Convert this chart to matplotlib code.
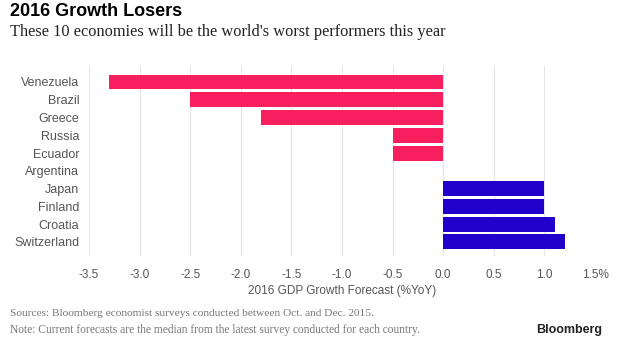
import matplotlib
matplotlib.use("Agg")
import matplotlib.pyplot as plt

countries = ["Venezuela", "Brazil", "Greece", "Russia", "Ecuador",
             "Argentina", "Japan", "Finland", "Croatia", "Switzerland"]
growth = [-3.3, -2.5, -1.8, -0.5, -0.5, 0.0, 1.0, 1.0, 1.1, 1.2]
xticks = [-3.5, -3.0, -2.5, -2.0, -1.5, -1.0, -0.5, 0.0, 0.5, 1.0, 1.5]
xtick_labels = ["-3.5", "-3.0", "-2.5", "-2.0", "-1.5", "-1.0", "-0.5",
                "0.0", "0.5", "1.0", "1.5%"]

plt.rcParams['axes.unicode_minus'] = False
plt.rcParams['font.family'] = ['Liberation Sans', 'DejaVu Sans']

fig = plt.figure(figsize=(6.25, 3.52), dpi=100)
ax = fig.add_axes([89/625, 1 - 256/352, (595 - 89)/625, (256 - 66)/352])

colors = ['#f81f5e' if v < 0 else '#2200cc' for v in growth]
ax.barh(range(len(countries)), growth, height=0.84, color=colors, zorder=2)

ax.set_xlim(-3.5, 1.5)
ax.set_ylim(9.79, -0.9)
ax.set_xticks(xticks)
ax.set_xticklabels(xtick_labels)
ax.set_yticks(range(len(countries)))
ax.set_yticklabels(countries)
ax.tick_params(axis='both', length=0, colors='#555555', labelsize=8.5)
ax.tick_params(axis='y', labelsize=9, pad=7)
ax.tick_params(axis='x', pad=9)
ax.grid(axis='x', color='#e5e5e5', linewidth=0.8, zorder=0)
for s in ax.spines.values():
    s.set_visible(False)
ax.set_xlabel("2016 GDP Growth Forecast (%YoY)", fontsize=8.5, color='#555555', labelpad=3)

fig.text(10/625, 1 - 12/352, "2016 Growth Losers", fontsize=13, fontweight='bold',
         va='center', ha='left', color='black')
fig.text(10/625, 1 - 32/352, "These 10 economies will be the world's worst performers this year",
         fontsize=11.8, family='Liberation Serif', va='center', ha='left', color='#222222')
fig.text(10/625, 1 - 314/352, "Sources: Bloomberg economist surveys conducted between Oct. and Dec. 2015.",
         fontsize=8.2, family='Liberation Serif', va='center', ha='left', color='#777777')
fig.text(10/625, 1 - 330/352, "Note: Current forecasts are the median from the latest survey conducted for each country.",
         fontsize=8.3, family='Liberation Serif', va='center', ha='left', color='#777777')
fig.text(602/625, 1 - 330/352, "Bloomberg", fontsize=9, fontweight='bold',
         va='center', ha='right', color='#222222')

fig.savefig("out.png", dpi=100)
